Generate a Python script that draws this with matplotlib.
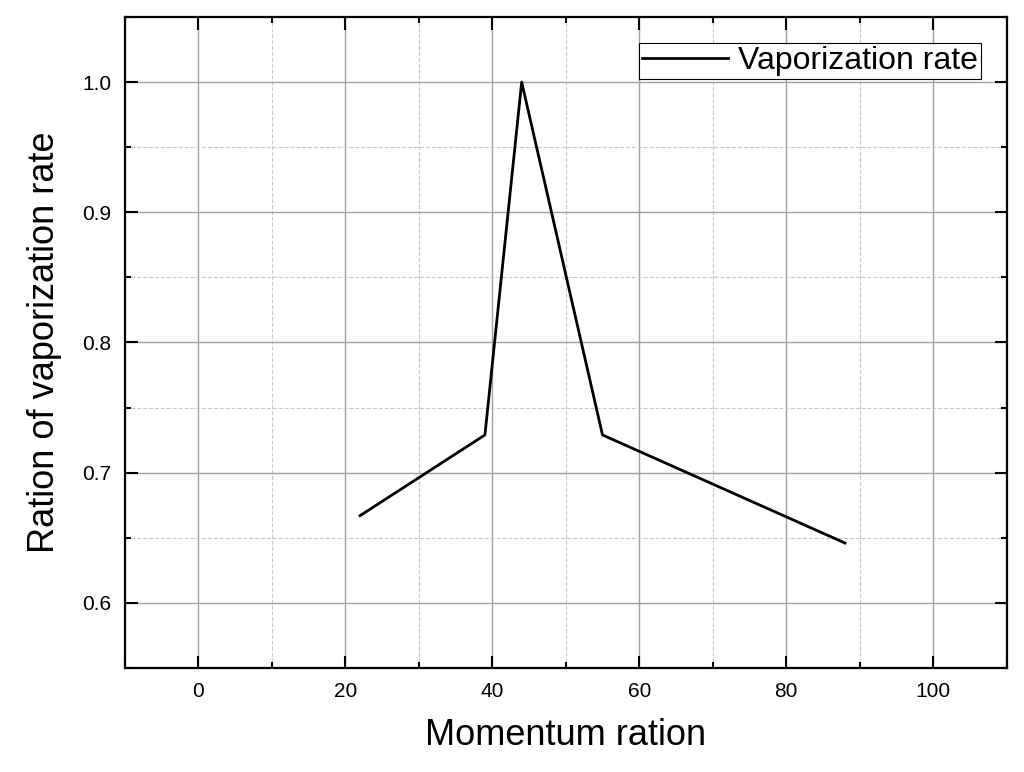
import matplotlib
matplotlib.use("Agg")
import matplotlib.pyplot as plt
from matplotlib.ticker import MultipleLocator

plt.rcParams['font.family'] = ['Liberation Sans', 'DejaVu Sans']

momentum = [22, 39, 44, 55, 88]
vapor = [0.667, 0.729, 1.0, 0.729, 0.646]

fig = plt.figure(figsize=(10.24, 7.72), dpi=100)
ax = fig.add_axes([0.122, 0.1347, 0.861, 0.8433])
ax.plot(momentum, vapor, color='black', lw=2, label='Vaporization rate')
ax.set_xlim(-10, 110)
ax.set_ylim(0.55, 1.05)
ax.xaxis.set_major_locator(MultipleLocator(20))
ax.xaxis.set_minor_locator(MultipleLocator(10))
ax.yaxis.set_major_locator(MultipleLocator(0.1))
ax.yaxis.set_minor_locator(MultipleLocator(0.05))
ax.grid(which='major', color='#a0a0a0', lw=1)
ax.grid(which='minor', color='#c8c8c8', lw=0.8, ls='--')
for s in ax.spines.values():
    s.set_linewidth(1.6)
ax.tick_params(which='both', labelsize=15, width=1.5, direction='in', right=True, top=True)
ax.tick_params(which='major', length=9, pad=10)
ax.tick_params(which='minor', length=4)
ax.set_xlabel('Momentum ration', fontsize=26, labelpad=12)
ax.set_ylabel('Ration of vaporization rate', fontsize=26, labelpad=14)
leg = ax.legend(loc='upper right', fontsize=23, fancybox=False, edgecolor='black',
                framealpha=1, handlelength=2.7, borderpad=0.1, handletextpad=0.3,
                borderaxespad=0.8)
leg.get_frame().set_linewidth(0.8)
fig.savefig('out.png', dpi=100)
